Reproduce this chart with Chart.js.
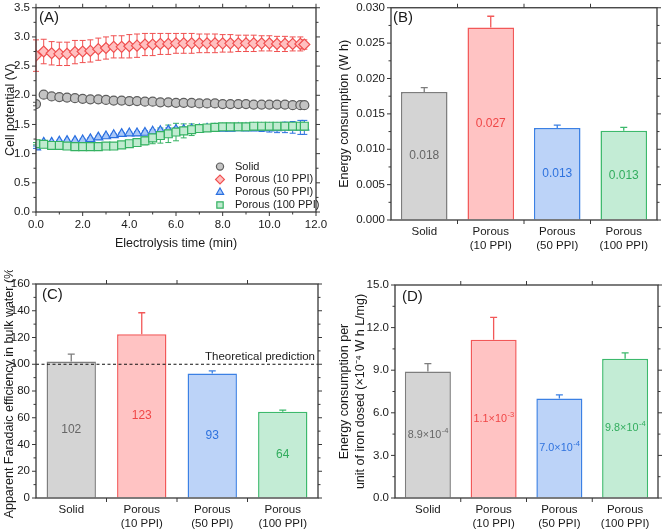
<!DOCTYPE html>
<html>
<head>
<meta charset="utf-8">
<script src="https://cdn.jsdelivr.net/npm/chart.js@4.4.0/dist/chart.umd.min.js"></script>
<style>
  body { margin: 0; background: #fff; }
  #wrap { position: relative; width: 662px; height: 530px; }
  canvas { position: absolute; }
</style>
</head>
<body>
<div id="wrap">
  <canvas id="cA" width="330" height="265" style="left:0;top:0"></canvas>
  <canvas id="cB" width="332" height="265" style="left:330px;top:0"></canvas>
  <canvas id="cC" width="330" height="260" style="left:0;top:270px"></canvas>
  <canvas id="cD" width="332" height="260" style="left:330px;top:270px"></canvas>
</div>
<script>
// ---- data: panel A (cell potential vs time) ----
const times = [0, 0.33, 0.67, 1.0, 1.33, 1.67, 2.0, 2.33, 2.67, 3.0, 3.33, 3.67, 4.0, 4.33, 4.67, 5.0, 5.33, 5.67,
  6.0, 6.33, 6.67, 7.0, 7.33, 7.67, 8.0, 8.33, 8.67, 9.0, 9.33, 9.67, 10.0, 10.33, 10.67, 11.0, 11.33, 11.5];
const solidV = [1.85, 2.01, 1.98, 1.97, 1.96, 1.95, 1.94, 1.93, 1.93, 1.92, 1.91, 1.91, 1.90, 1.90, 1.89, 1.89, 1.88, 1.88,
  1.87, 1.87, 1.87, 1.86, 1.86, 1.86, 1.85, 1.85, 1.85, 1.85, 1.84, 1.84, 1.84, 1.84, 1.84, 1.83, 1.83, 1.83];
const solidErr = [0.03, 0.03, 0.03, 0.03, 0.02, 0.02, 0.02, 0.02, 0.02, 0.02, 0.02, 0.02, 0.02, 0.02, 0.02, 0.02, 0.03, 0.03,
  0.03, 0.03, 0.03, 0.03, 0.03, 0.03, 0.03, 0.03, 0.03, 0.03, 0.03, 0.03, 0.03, 0.03, 0.03, 0.03, 0.04, 0.04];
const ppi10V = [2.68, 2.75, 2.72, 2.71, 2.71, 2.74, 2.75, 2.76, 2.79, 2.81, 2.83, 2.83, 2.84, 2.85, 2.87, 2.87, 2.88, 2.88,
  2.89, 2.89, 2.89, 2.89, 2.89, 2.89, 2.89, 2.89, 2.89, 2.89, 2.89, 2.89, 2.89, 2.88, 2.88, 2.88, 2.88, 2.87];
const ppi10Err = [0.27, 0.21, 0.2, 0.2, 0.2, 0.2, 0.19, 0.19, 0.19, 0.19, 0.19, 0.19, 0.2, 0.2, 0.19, 0.19, 0.18, 0.18,
  0.17, 0.17, 0.17, 0.16, 0.16, 0.16, 0.15, 0.15, 0.14, 0.14, 0.14, 0.13, 0.13, 0.13, 0.13, 0.12, 0.12, 0.08];
const ppi50V = [1.11, 1.19, 1.19, 1.21, 1.22, 1.22, 1.23, 1.25, 1.28, 1.30, 1.32, 1.34, 1.35, 1.35, 1.36, 1.38, 1.39, 1.40,
  1.41, 1.41, 1.42, 1.42, 1.43, 1.43, 1.43, 1.43, 1.44, 1.44, 1.44, 1.44, 1.44, 1.44, 1.45, 1.45, 1.45, 1.45];
const ppi50Err = [0.02, 0.02, 0.02, 0.02, 0.02, 0.02, 0.02, 0.02, 0.02, 0.02, 0.02, 0.02, 0.02, 0.03, 0.03, 0.03, 0.03, 0.04,
  0.04, 0.04, 0.04, 0.03, 0.03, 0.03, 0.03, 0.04, 0.04, 0.05, 0.05, 0.06, 0.07, 0.08, 0.09, 0.10, 0.12, 0.12];
const ppi100V = [1.17, 1.16, 1.14, 1.14, 1.13, 1.12, 1.12, 1.12, 1.12, 1.13, 1.13, 1.15, 1.17, 1.19, 1.22, 1.27, 1.31, 1.34,
  1.37, 1.39, 1.41, 1.43, 1.44, 1.45, 1.46, 1.46, 1.46, 1.46, 1.47, 1.47, 1.47, 1.47, 1.47, 1.47, 1.47, 1.47];
const ppi100Err = [0.02, 0.02, 0.02, 0.02, 0.02, 0.02, 0.02, 0.02, 0.02, 0.02, 0.02, 0.03, 0.04, 0.05, 0.07, 0.10, 0.13, 0.15,
  0.15, 0.12, 0.10, 0.06, 0.04, 0.03, 0.03, 0.03, 0.03, 0.03, 0.03, 0.03, 0.03, 0.03, 0.04, 0.04, 0.04, 0.04];
const seriesNames = ['Solid', 'Porous (10 PPI)', 'Porous (50 PPI)', 'Porous (100 PPI)'];

// ---- data: bar panels ----
const categories = ['Solid', ['Porous', '(10 PPI)'], ['Porous', '(50 PPI)'], ['Porous', '(100 PPI)']];
const energy = [0.0181, 0.0272, 0.0130, 0.0126];
const energyErr = [0.0006, 0.0016, 0.0004, 0.0005];
const energyText = ['0.018', '0.027', '0.013', '0.013'];
const faradaic = [102, 122.5, 93, 64.5];
const faradaicErr = [5.5, 16, 2, 1.2];
const faradaicText = ['102', '123', '93', '64'];
const theoretical = 100;
const perIron = [8.9, 11.15, 7.0, 9.8];
const perIronErr = [0.57, 1.57, 0.26, 0.42];
const perIronText = ['8.9×10⁻⁴', '1.1×10⁻³', '7.0×10⁻⁴', '9.8×10⁻⁴'];

// ---- styles ----
const FONT = '"Liberation Sans", Arial, sans-serif';
const fills = ['#d4d4d4', '#ffc3c3', '#bcd3f8', '#c3ecd5'];
const borders = ['#7d7d7d', '#f25858', '#3b80e4', '#3cb96c'];
const textCols = ['#666666', '#f04646', '#2e72de', '#32ad5e'];
const markFills = ['#c4c4c4', '#ffc0c0', '#a9c8f8', '#c0ebd0'];
const markBorders = ['#5e5e5e', '#f05050', '#2a6fe0', '#35b262'];
const markStyles = ['circle', 'rectRot', 'triangle', 'rect'];
const markRadius = [4.5, 5.5, 5.2, 5.6];

Chart.defaults.font.family = FONT;
Chart.defaults.font.size = 11.5;
Chart.defaults.color = '#1a1a1a';
Chart.defaults.animation = false;

// frame, mirrored ticks, minor ticks and panel letter
const framePlugin = {
  id: 'frame',
  afterDraw(chart, args, o) {
    const { ctx, chartArea: a } = chart;
    const x = chart.scales.x, y = chart.scales.y;
    ctx.save();
    ctx.strokeStyle = '#383838';
    ctx.lineWidth = 1.3;
    ctx.strokeRect(a.left, a.top, a.right - a.left, a.bottom - a.top);
    ctx.lineWidth = 1;
    const seg = (x1, y1, x2, y2) => { ctx.beginPath(); ctx.moveTo(x1, y1); ctx.lineTo(x2, y2); ctx.stroke(); };
    const yTick = (py, len) => { seg(a.left - len, py, a.left, py); seg(a.right, py, a.right + len, py); };
    const xTick = (px, len) => { seg(px, a.bottom, px, a.bottom + len); seg(px, a.top - len, px, a.top); };
    y.ticks.forEach(t => yTick(y.getPixelForValue(t.value), 4));
    for (let v = y.min + o.yMinor; v < y.max; v += 2 * o.yMinor) yTick(y.getPixelForValue(v), 2.5);
    if (o.category) {
      for (let i = 1; i < x.ticks.length; i++) {
        xTick((x.getPixelForValue(i - 1) + x.getPixelForValue(i)) / 2, 4);
      }
    } else {
      x.ticks.forEach(t => xTick(x.getPixelForValue(t.value), 4));
      for (let v = x.min + o.xMinor; v < x.max; v += 2 * o.xMinor) xTick(x.getPixelForValue(v), 2.5);
    }
    ctx.fillStyle = '#1a1a1a';
    ctx.font = '15px ' + FONT;
    ctx.textBaseline = 'top';
    ctx.fillText(o.letter, a.left + o.dx, a.top + o.dy);
    ctx.restore();
  }
};

function drawErr(chart, o) {
  const ctx = chart.ctx, y = chart.scales.y;
  ctx.save();
  ctx.lineWidth = o.width;
  o.errs.forEach((errs, di) => {
    const meta = chart.getDatasetMeta(di);
    const vals = chart.data.datasets[di].data;
    meta.data.forEach((el, j) => {
      const v = typeof vals[j] === 'object' ? vals[j].y : vals[j];
      const c = o.colors[di];
      ctx.strokeStyle = Array.isArray(c) ? c[j] : c;
      const top = y.getPixelForValue(v + errs[j]);
      const bot = o.both ? y.getPixelForValue(v - errs[j]) : el.y;
      ctx.beginPath();
      ctx.moveTo(el.x, bot); ctx.lineTo(el.x, top);
      ctx.moveTo(el.x - o.cap, top); ctx.lineTo(el.x + o.cap, top);
      if (o.both) { ctx.moveTo(el.x - o.cap, bot); ctx.lineTo(el.x + o.cap, bot); }
      ctx.stroke();
    });
  });
  ctx.restore();
}

const errPlugin = {
  id: 'errbars',
  beforeDatasetsDraw(chart, args, o) { if (o.errs && o.before) drawErr(chart, o); },
  afterDatasetsDraw(chart, args, o) { if (o.errs && !o.before) drawErr(chart, o); }
};

// superscript characters are drawn as small raised text
const SUP = { '⁻': '-', '⁰': '0', '¹': '1', '²': '2', '³': '3', '⁴': '4', '⁵': '5', '⁶': '6', '⁷': '7', '⁸': '8', '⁹': '9' };
function drawSupText(ctx, text, cx, cy, size) {
  let k = 0;
  while (k < text.length && !(text[k] in SUP)) k++;
  const base = text.slice(0, k);
  const exp = text.slice(k).split('').map(ch => SUP[ch]).join('');
  ctx.font = size + 'px ' + FONT;
  const wb = ctx.measureText(base).width;
  ctx.font = (size * 0.7) + 'px ' + FONT;
  const we = ctx.measureText(exp).width;
  const x0 = cx - (wb + we) / 2;
  ctx.textAlign = 'left';
  ctx.textBaseline = 'middle';
  ctx.font = size + 'px ' + FONT;
  ctx.fillText(base, x0, cy);
  if (exp) {
    ctx.font = (size * 0.7) + 'px ' + FONT;
    ctx.fillText(exp, x0 + wb + 0.5, cy - size * 0.38);
  }
}

// value labels in the middle of each bar
const barTextPlugin = {
  id: 'barText',
  afterDatasetsDraw(chart, args, o) {
    if (!o.texts) return;
    const ctx = chart.ctx, y = chart.scales.y;
    const vals = chart.data.datasets[0].data;
    ctx.save();
    chart.getDatasetMeta(0).data.forEach((el, j) => {
      ctx.fillStyle = textCols[j];
      drawSupText(ctx, o.texts[j], el.x, y.getPixelForValue(vals[j] / 2), o.size || 12);
    });
    ctx.restore();
  }
};

// dashed reference line for panel C
const refLinePlugin = {
  id: 'refLine',
  afterDatasetsDraw(chart, args, o) {
    if (o.value === undefined) return;
    const { ctx, chartArea: a } = chart;
    const py = chart.scales.y.getPixelForValue(o.value);
    ctx.save();
    ctx.strokeStyle = '#111';
    ctx.lineWidth = 1;
    ctx.setLineDash([3, 2.5]);
    ctx.beginPath(); ctx.moveTo(a.left, py); ctx.lineTo(a.right, py); ctx.stroke();
    ctx.fillStyle = '#1a1a1a';
    ctx.font = '11.5px ' + FONT;
    ctx.textAlign = 'right';
    ctx.textBaseline = 'bottom';
    ctx.fillText(o.text, a.right - 3, py - 1.5);
    ctx.restore();
  }
};

// in-plot legend for panel A
const markLegendPlugin = {
  id: 'markLegend',
  afterDraw(chart, args, o) {
    if (!o.names) return;
    const { ctx, chartArea: a } = chart;
    ctx.save();
    ctx.font = '11px ' + FONT;
    ctx.textBaseline = 'middle';
    o.names.forEach((name, i) => {
      const cy = a.bottom - 7 - (o.names.length - 1 - i) * 12.8;
      const cx = a.right - 96;
      ctx.fillStyle = markFills[i];
      ctx.strokeStyle = markBorders[i];
      ctx.lineWidth = 1.2;
      Chart.helpers.drawPoint(ctx, { pointStyle: markStyles[i], radius: markRadius[i] * 0.8, rotation: 0, borderWidth: 1.2 }, cx, cy);
      ctx.fillStyle = '#1a1a1a';
      ctx.fillText(name, a.right - 81, cy);
    });
    ctx.restore();
  }
};

Chart.register(framePlugin, errPlugin, barTextPlugin, refLinePlugin, markLegendPlugin);

const hiddenGrid = { display: true, drawOnChartArea: false, drawTicks: true, tickLength: 4, color: 'rgba(0,0,0,0)' };

function yAxis(min, max, step, digits, title, padTop, width) {
  return {
    min: min, max: max,
    ticks: { stepSize: step, padding: 2, font: { lineHeight: 1 }, callback: v => v.toFixed(digits) },
    grid: hiddenGrid,
    border: { display: false },
    title: { display: true, text: title, font: { size: 12.5, lineHeight: 1.3 }, padding: { top: padTop, bottom: 0 } },
    afterFit: s => { s.width = width; }
  };
}

function catAxis(height) {
  return {
    type: 'category',
    ticks: { padding: 1, maxRotation: 0, autoSkip: false, font: { lineHeight: 1.2 } },
    grid: Object.assign({ offset: true }, hiddenGrid),
    border: { display: false },
    afterFit: s => { s.height = height; }
  };
}

// ---- panel A ----
const seriesV = [solidV, ppi10V, ppi50V, ppi100V];
const seriesErr = [solidErr, ppi10Err, ppi50Err, ppi100Err];
new Chart(document.getElementById('cA'), {
  type: 'line',
  data: {
    datasets: seriesV.map((vals, i) => ({
      label: seriesNames[i],
      data: times.map((t, j) => ({ x: t, y: vals[j] })),
      showLine: false,
      pointStyle: markStyles[i],
      pointRadius: markRadius[i],
      pointBorderWidth: 1.2,
      pointBackgroundColor: markFills[i],
      pointBorderColor: markBorders[i],
      order: 4 - i
    }))
  },
  options: {
    responsive: false,
    layout: { padding: { left: 0, top: 6, right: 14, bottom: 13 } },
    scales: {
      x: {
        type: 'linear', min: 0, max: 12,
        ticks: { stepSize: 2, padding: 2, callback: v => v.toFixed(1) },
        grid: hiddenGrid,
        border: { display: false },
        title: { display: true, text: 'Electrolysis time (min)', font: { size: 12.5, lineHeight: 1.3 }, padding: { top: 2, bottom: 0 } },
        afterFit: s => { s.height = 40; }
      },
      y: yAxis(0, 3.5, 0.5, 1, 'Cell potential (V)', 2.5, 36)
    },
    plugins: {
      legend: { display: false },
      tooltip: { enabled: false },
      frame: { letter: '(A)', dx: 3, dy: 3, yMinor: 0.25, xMinor: 1 },
      errbars: { errs: seriesErr, colors: markBorders, both: true, cap: 3, width: 1, before: true },
      markLegend: { names: seriesNames }
    }
  }
});

// ---- bar panels ----
function barChart(id, values, errs, texts, textSize, yOpts, frameOpts, pad, xHeight, extra) {
  return new Chart(document.getElementById(id), {
    type: 'bar',
    data: {
      labels: categories,
      datasets: [{
        data: values,
        backgroundColor: fills,
        borderColor: borders,
        borderWidth: 1.5,
        borderSkipped: 'bottom',
        barPercentage: 0.7,
        categoryPercentage: 1
      }]
    },
    options: {
      responsive: false,
      layout: { padding: pad },
      scales: { x: catAxis(xHeight), y: yOpts },
      plugins: Object.assign({
        legend: { display: false },
        tooltip: { enabled: false },
        frame: frameOpts,
        errbars: { errs: [errs], colors: [borders], both: false, cap: 3.5, width: 1.3, before: false },
        barText: { texts: texts, size: textSize }
      }, extra || {})
    }
  });
}

barChart('cB', energy, energyErr, energyText, 12,
  yAxis(0, 0.03, 0.005, 3, 'Energy consumption (W h)', 6.5, 61),
  { letter: '(B)', dx: 2, dy: 3, yMinor: 0.0025, category: true },
  { left: 0, top: 6, right: 5, bottom: 5 }, 40);

barChart('cC', faradaic, faradaicErr, faradaicText, 12,
  yAxis(0, 160, 20, 0, 'Apparent Faradaic efficiency in bulk water (%)', 1.5, 36),
  { letter: '(C)', dx: 6, dy: 3, yMinor: 10, category: true },
  { left: 0, top: 14, right: 12, bottom: 0 }, 32,
  { refLine: { value: theoretical, text: 'Theoretical prediction' } });

barChart('cD', perIron, perIronErr, perIronText, 10.8,
  yAxis(0, 15, 3, 1, ['Energy consumption per', 'unit of iron dosed (×10⁻⁴ W h L/mg)'], 6.5, 65),
  { letter: '(D)', dx: 7, dy: 4, yMinor: 1.5, category: true },
  { left: 0, top: 15, right: 4, bottom: 0 }, 32);
</script>
</body>
</html>
